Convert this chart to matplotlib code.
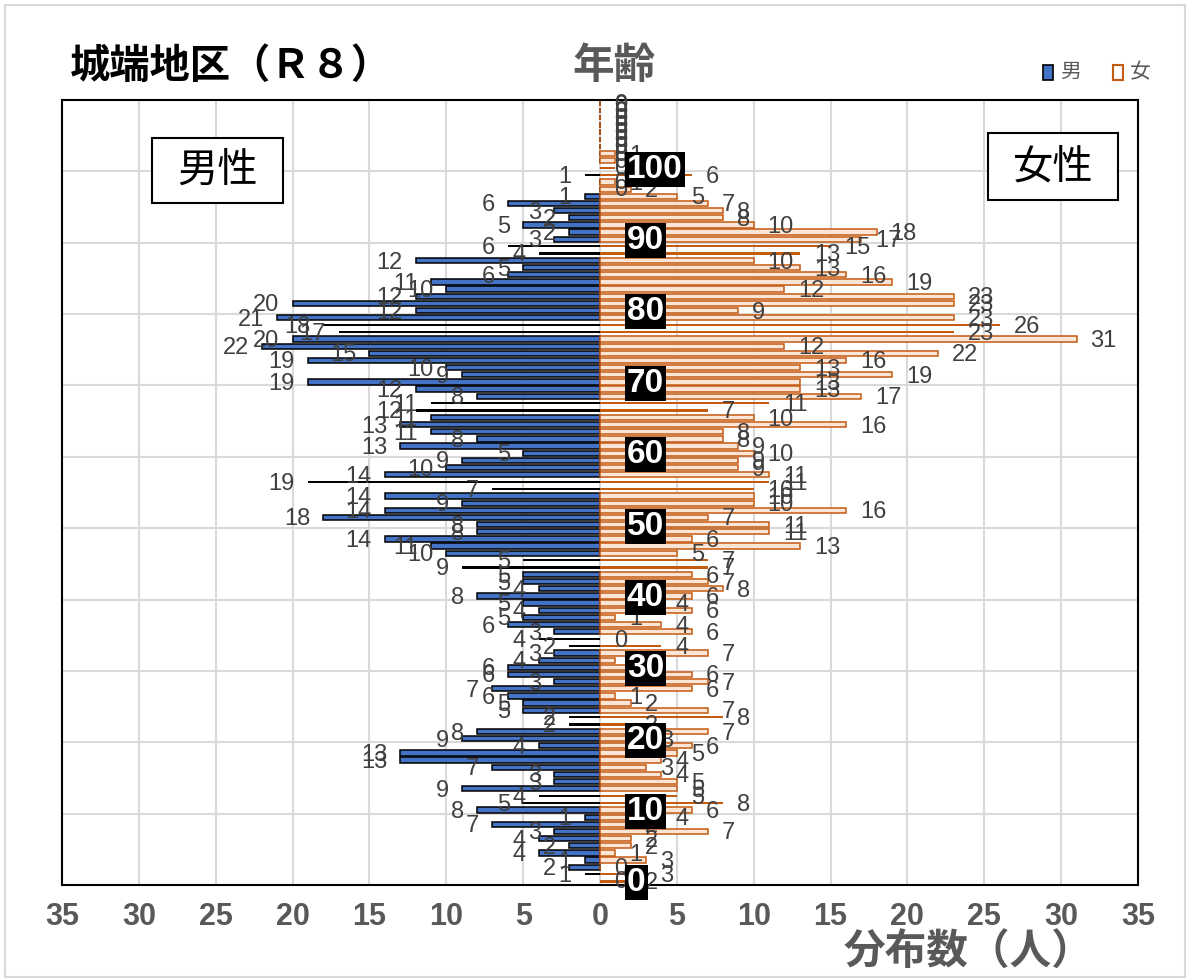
import numpy as np
import matplotlib.pyplot as plt
from matplotlib.patches import Rectangle

plt.rcParams['font.family'] = ['Noto Sans CJK JP', 'DejaVu Sans']

# population by single year of age (0..109)
ages = np.arange(110)
male = np.array([
    0, 1, 2, 1, 4, 2, 4, 3, 7, 1,
    8, 5, 4, 9, 3, 3, 7, 13, 13, 4,
    9, 8, 2, 2, 5, 5, 6, 7, 3, 6,
    6, 4, 3, 2, 4, 3, 6, 5, 4, 5,
    8, 4, 5, 5, 9, 5, 10, 11, 14, 8,
    8, 18, 14, 9, 14, 7, 19, 14, 10, 9,
    5, 13, 8, 11, 13, 11, 12, 11, 8, 12,
    19, 9, 10, 19, 15, 22, 20, 17, 18, 21,
    12, 20, 12, 10, 11, 6, 5, 12, 4, 6,
    3, 2, 5, 2, 3, 6, 1, 0, 0, 1,
    0, 0, 0, 0, 0, 0, 0, 0, 0, 0])
female = np.array([
    2, 3, 0, 3, 1, 2, 2, 7, 2, 4,
    6, 8, 5, 5, 5, 4, 3, 4, 5, 6,
    3, 7, 2, 8, 7, 2, 1, 6, 7, 6,
    2, 1, 7, 4, 0, 6, 4, 1, 6, 4,
    6, 8, 7, 6, 7, 7, 5, 13, 6, 11,
    11, 7, 16, 10, 10, 10, 11, 11, 9, 9,
    10, 9, 8, 8, 16, 10, 7, 11, 17, 13,
    13, 19, 13, 16, 22, 12, 31, 23, 26, 23,
    9, 23, 23, 12, 19, 16, 13, 10, 13, 15,
    17, 18, 10, 8, 8, 7, 5, 2, 1, 6,
    1, 1, 1, 0, 0, 0, 0, 0, 0, 0])
age_marks = list(range(0, 101, 10))
xticks = np.arange(-35, 36, 5)

MALE_FILL = '#4472C4'
FEM_EDGE = '#C55A11'
FEM_FILL = '#FBE5D6'
GRAY = '#595959'
NUM = ['Liberation Sans Narrow', 'Liberation Sans', 'DejaVu Sans']

W, H = 1189, 980
fig = plt.figure(figsize=(W / 100, H / 100), dpi=100)
ax = fig.add_axes([62 / W, 1 - 885 / H, (1138 - 62) / W, (885 - 100) / H])

# rows that Excel rasterised as thin solid strokes
thin = (ages % 11 == 0) | (ages % 11 == 1)
norm = ~thin

ax.barh(ages[norm], -male[norm], height=0.74, color=MALE_FILL,
        edgecolor='black', linewidth=1.1, zorder=3)
ax.barh(ages[thin], -male[thin], height=0.32, color='black', linewidth=0, zorder=3)
ax.barh(ages[norm], female[norm], height=0.74, color=FEM_FILL,
        edgecolor=FEM_EDGE, linewidth=1.1, zorder=3)
ax.barh(ages[thin], female[thin], height=0.32, color=FEM_EDGE, linewidth=0, zorder=3)

# data labels
lab = dict(va='center', fontsize=17, color='#404040', family=NUM, zorder=5)
for a, m, f in zip(ages, male, female):
    if m > 0:
        ax.annotate(str(m), (-m, a), xytext=(-13, -2), textcoords='offset pixels',
                    ha='right', **lab)
    else:
        ax.annotate('0', (0, a), xytext=(14, -1), textcoords='offset pixels',
                    ha='left', **lab)
    ax.annotate(str(f), (f, a), xytext=(14, -2), textcoords='offset pixels',
                ha='left', **lab)

# age markers
for a in age_marks:
    ax.text(1.75, a - 0.2, str(a), ha='left', va='center', color='white',
            fontsize=24, weight='bold', family=NUM, zorder=6,
            bbox=dict(boxstyle='square,pad=0.06', fc='black', ec='none'))

ax.set_xlim(-35, 35)
ax.set_ylim(-0.5, 109.5)
ax.set_xticks(xticks)
ax.set_xticklabels([str(abs(t)) for t in xticks], fontsize=22, weight='bold',
                   color=GRAY, family=NUM)
ax.tick_params(axis='x', length=0, pad=12)
ax.set_yticks([])
ax.grid(axis='x', color='#D9D9D9', linewidth=1.5, zorder=0)
for b in range(10, 101, 10):
    ax.axhline(b - 0.5, color='#D9D9D9', linewidth=1.5, zorder=0)
for s in ax.spines.values():
    s.set_color('black')
    s.set_linewidth(1.5)

# 男性 / 女性 boxes
for x0, y0, x1, y1, txt in [(152, 138, 283, 203, '男性'), (988, 133, 1118, 200, '女性')]:
    fig.patches.append(Rectangle((x0 / W, 1 - y1 / H), (x1 - x0) / W, (y1 - y0) / H,
                                 transform=fig.transFigure, fc='white', ec='black',
                                 lw=1.5, zorder=10))
    fig.text((x0 + x1) / 2 / W, 1 - (y0 + y1) / 2 / H, txt, ha='center', va='center',
             fontsize=29, color='black', zorder=11)

# titles
fig.text(70 / W, 1 - 66 / H, '城端地区（Ｒ８）', ha='left', va='center',
         fontsize=29, weight='bold', color='black')
fig.text(614 / W, 1 - 66 / H, '年齢', ha='center', va='center',
         fontsize=30, weight='bold', color=GRAY)
fig.text(1093 / W, 1 - 953 / H, '分布数（人）', ha='right', va='center',
         fontsize=30, weight='bold', color=GRAY)

# legend
fig.patches.append(Rectangle((1043 / W, 1 - 80 / H), 10 / W, 15 / H, transform=fig.transFigure,
                             fc=MALE_FILL, ec='black', lw=1.2))
fig.text(1060 / W, 1 - 72 / H, '男', ha='left', va='center', fontsize=15, color=GRAY)
fig.patches.append(Rectangle((1113 / W, 1 - 80 / H), 10 / W, 15 / H, transform=fig.transFigure,
                             fc='white', ec=FEM_EDGE, lw=1.5))
fig.text(1130 / W, 1 - 72 / H, '女', ha='left', va='center', fontsize=15, color=GRAY)

# chart-area border
fig.patches.append(Rectangle((5 / W, 3 / H), 1180 / W, 972 / H, transform=fig.transFigure,
                             fc='none', ec='#D9D9D9', lw=1.5))

fig.savefig('out.png', dpi=100)
